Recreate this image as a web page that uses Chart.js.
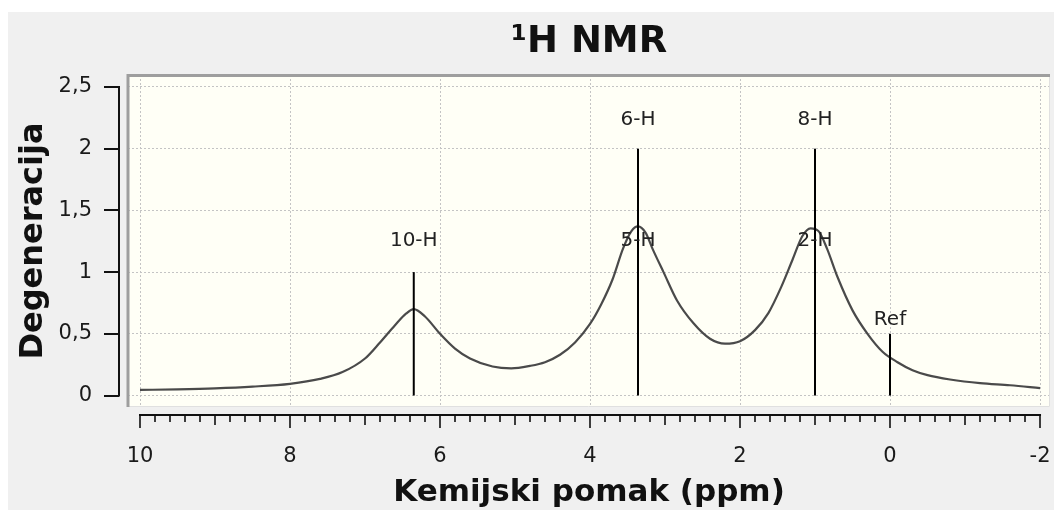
<!DOCTYPE html>
<html><head><meta charset="utf-8">
<script src="https://cdn.jsdelivr.net/npm/chart.js@4/dist/chart.umd.min.js"></script>
<style>
html,body{margin:0;padding:0;background:#fff;overflow:hidden;}
#wrap{position:absolute;left:8px;top:12px;width:1046px;height:498px;background:#f0f0f0;}
#wrap canvas{display:block;}
</style></head><body>
<div id="wrap"><canvas id="c"></canvas></div>
<script>
// ---- data ----
const spectrumPpm = [10.0, 9.5, 9.0, 8.5, 8.0, 7.6, 7.3, 7.0, 6.8, 6.6, 6.45, 6.35, 6.2, 6.0, 5.8, 5.6, 5.3, 5.05, 4.8, 4.6, 4.4, 4.2, 4.0, 3.85, 3.7, 3.56, 3.45, 3.36, 3.26, 3.16, 3.02, 2.84, 2.62, 2.4, 2.2, 2.0, 1.8, 1.62, 1.45, 1.3, 1.17, 1.06, 0.95, 0.84, 0.7, 0.5, 0.3, 0.1, -0.1, -0.3, -0.5, -0.8, -1.2, -1.6, -2.0];
const spectrumIntensity = [0.045, 0.05, 0.058, 0.072, 0.095, 0.135, 0.19, 0.30, 0.43, 0.57, 0.665, 0.70, 0.64, 0.50, 0.38, 0.30, 0.235, 0.22, 0.24, 0.27, 0.33, 0.43, 0.58, 0.74, 0.94, 1.19, 1.33, 1.37, 1.32, 1.18, 1.0, 0.77, 0.585, 0.46, 0.42, 0.44, 0.53, 0.67, 0.88, 1.10, 1.29, 1.355, 1.33, 1.19, 0.96, 0.69, 0.50, 0.355, 0.27, 0.205, 0.165, 0.13, 0.10, 0.083, 0.06];
const stickPpm = [6.35, 3.36, 1.0, 0];
const stickHeight = [1, 2, 2, 0.5];
const peakLabels = ['10-H', '5-H', '6-H', '2-H', '8-H', 'Ref'];
const peakLabelPpm = [6.35, 3.36, 3.36, 1.0, 1.0, 0];
const peakLabelLevel = [1.25, 1.25, 2.23, 1.25, 2.23, 0.61];
const xTicks = [10, 8, 6, 4, 2, 0, -2];
const xTickLabels = ['10', '8', '6', '4', '2', '0', '-2'];
const yTicks = [0, 0.5, 1, 1.5, 2, 2.5];
const yTickLabels = ['0', '0,5', '1', '1,5', '2', '2,5'];
const chartTitle = '\u00B9H NMR';
const xTitle = 'Kemijski pomak (ppm)';
const yTitle = 'Degeneracija';

const FONT = '"DejaVu Sans", Verdana, sans-serif';

const decor = {
  id: 'decor',
  beforeDraw(chart) {
    const {ctx, chartArea: a} = chart;
    ctx.save();
    ctx.fillStyle = '#fffff6';
    ctx.fillRect(a.left, a.top, a.right - a.left, a.bottom - a.top);
    ctx.restore();
  },
  afterDatasetsDraw(chart) {
    const {ctx, scales: {x, y}} = chart;
    ctx.save();
    ctx.font = '20px ' + FONT;
    ctx.fillStyle = '#222';
    ctx.textAlign = 'center';
    ctx.textBaseline = 'middle';
    peakLabels.forEach((t, i) => {
      ctx.fillText(t, x.getPixelForValue(peakLabelPpm[i]), y.getPixelForValue(peakLabelLevel[i]));
    });
    ctx.restore();
  },
  afterDraw(chart) {
    const {ctx, chartArea: a, scales: {x, y}} = chart;
    ctx.save();
    // frame
    ctx.strokeStyle = '#e0e0e0';
    ctx.lineWidth = 1;
    ctx.beginPath();
    ctx.moveTo(a.right - 0.5, a.top);
    ctx.lineTo(a.right - 0.5, a.bottom - 0.5);
    ctx.lineTo(a.left, a.bottom - 0.5);
    ctx.stroke();
    ctx.strokeStyle = '#9e9e9e';
    ctx.lineWidth = 3;
    ctx.beginPath();
    ctx.moveTo(a.left, a.bottom);
    ctx.lineTo(a.left, a.top + 0.5);
    ctx.lineTo(a.right, a.top + 0.5);
    ctx.stroke();

    ctx.strokeStyle = '#111';
    ctx.lineWidth = 2;
    // y axis spine
    const yx = a.left - 9;
    const y0 = y.getPixelForValue(yTicks[0]);
    const y1 = y.getPixelForValue(yTicks[yTicks.length - 1]);
    ctx.beginPath();
    ctx.moveTo(yx, y0 + 1);
    ctx.lineTo(yx, y1 - 1);
    yTicks.forEach(v => {
      const py = Math.round(y.getPixelForValue(v));
      ctx.moveTo(yx - 15, py);
      ctx.lineTo(yx, py);
    });
    ctx.stroke();
    // x axis spine
    const xy = a.bottom + 8;
    const xa = x.getPixelForValue(xTicks[0]);
    const xb = x.getPixelForValue(xTicks[xTicks.length - 1]);
    ctx.beginPath();
    ctx.moveTo(xa - 1, xy);
    ctx.lineTo(xb + 1, xy);
    ctx.stroke();
    ctx.lineWidth = 1.6;
    ctx.beginPath();
    const lo = xTicks[xTicks.length - 1], hi = xTicks[0];
    for (let k = 0; k <= Math.round((hi - lo) * 5); k++) {
      const v = lo + k / 5;
      const px = Math.round(x.getPixelForValue(v));
      let len = 7;
      if (k % 10 === 0) len = 13; else if (k % 5 === 0) len = 10;
      ctx.moveTo(px, xy);
      ctx.lineTo(px, xy + len);
    }
    ctx.stroke();
    ctx.restore();
  }
};

const datasets = [{
  data: spectrumPpm.map((p, i) => ({x: p, y: spectrumIntensity[i]})),
  borderColor: '#4a4a4a',
  borderWidth: 2.2,
  pointRadius: 0,
  cubicInterpolationMode: 'monotone',
  order: 2
}].concat(stickPpm.map((p, i) => ({
  data: [{x: p, y: 0}, {x: p, y: stickHeight[i]}],
  borderColor: '#000',
  borderWidth: 2,
  pointRadius: 0,
  order: 1
})));

new Chart(document.getElementById('c'), {
  type: 'line',
  data: {datasets},
  plugins: [decor],
  options: {
    responsive: true,
    maintainAspectRatio: false,
    animation: false,
    events: [],
    layout: {padding: {left: 0, right: 4, top: 0, bottom: 0}},
    plugins: {
      legend: {display: false},
      tooltip: {enabled: false},
      title: {
        display: true,
        text: chartTitle,
        fullSize: false,
        color: '#111',
        font: {family: FONT, size: 37, weight: 'bold'},
        padding: {top: 8, bottom: 10.6}
      }
    },
    scales: {
      x: {
        type: 'linear',
        reverse: true,
        min: -2.133,
        max: 10.16,
        afterBuildTicks: s => { s.ticks = xTicks.map(v => ({value: v})); },
        afterFit: s => { s.height = 103; s.paddingLeft = 0; s.paddingRight = 0; },
        ticks: {
          callback: v => xTickLabels[xTicks.indexOf(v)],
          font: {family: FONT, size: 21},
          color: '#1a1a1a',
          padding: 0,
          maxRotation: 0,
          autoSkip: false
        },
        grid: {color: '#c4c4c4', lineWidth: 1, drawTicks: true, tickLength: 37, tickColor: 'rgba(0,0,0,0)'},
        border: {display: false, dash: [2, 2]},
        title: {
          display: true,
          text: xTitle,
          color: '#111',
          font: {family: FONT, size: 31, weight: 'bold', lineHeight: 1.13},
          padding: 0
        }
      },
      y: {
        type: 'linear',
        min: -0.093,
        max: 2.597,
        afterBuildTicks: s => { s.ticks = yTicks.map(v => ({value: v})); },
        afterFit: s => { s.width = 120; s.paddingTop = 0; s.paddingBottom = 0; },
        ticks: {
          callback: v => yTickLabels[yTicks.indexOf(v)],
          font: {family: FONT, size: 21},
          color: '#1a1a1a',
          padding: 0,
          autoSkip: false
        },
        grid: {color: '#c4c4c4', lineWidth: 1, drawTicks: true, tickLength: 36, tickColor: 'rgba(0,0,0,0)'},
        border: {display: false, dash: [2, 2]},
        title: {
          display: true,
          text: yTitle,
          color: '#111',
          font: {family: FONT, size: 32, weight: 'bold'},
          padding: {top: 6, bottom: 0}
        }
      }
    }
  }
});
</script>
</body></html>
